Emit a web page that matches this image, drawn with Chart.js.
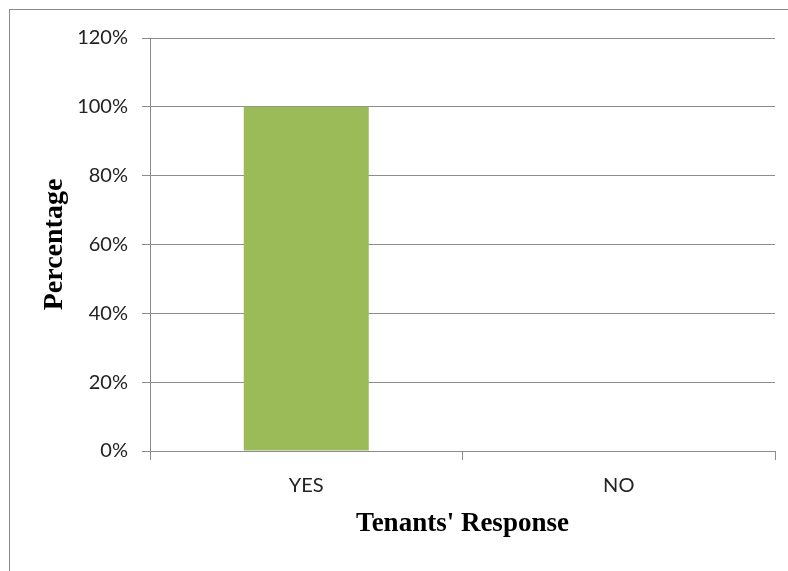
<!DOCTYPE html>
<html>
<head>
<meta charset="utf-8">
<title>Tenants' Response</title>
<script src="https://cdn.jsdelivr.net/npm/chart.js@4/dist/chart.umd.min.js"></script>
<style>
  html, body { margin: 0; padding: 0; background: #fff; overflow: hidden; }
  #wrap { position: relative; width: 788px; height: 571px; }
  #frame { position: absolute; left: 9px; top: 9px; width: 800px; height: 600px; border: 1px solid #8a8a8a; box-sizing: border-box; }
  #chart { position: absolute; left: 0; top: 0; }
</style>
</head>
<body>
<div id="wrap">
  <div id="frame"></div>
  <canvas id="chart" width="788" height="571"></canvas>
</div>
<script>
// survey answers, share of tenants (percent)
const responses = ["YES", "NO"];
const shares = [100, 0];
const yTicks = [0, 20, 40, 60, 80, 100, 120];

const AXIS_GREY = "#8c8c8c";
const BAR_GREEN = "#9bbb59";

const ctx = document.getElementById("chart").getContext("2d");
new Chart(ctx, {
  type: "bar",
  data: {
    labels: responses,
    datasets: [{
      data: shares,
      backgroundColor: BAR_GREEN,
      borderWidth: 0,
      categoryPercentage: 0.4,
      barPercentage: 1.0,
    }],
  },
  options: {
    responsive: false,
    animation: false,
    layout: { padding: { top: 38, right: 13, bottom: 0, left: 0 } },
    plugins: { legend: { display: false }, tooltip: { enabled: false } },
    scales: {
      x: {
        afterFit: (s) => { s.height = 120; },
        grid: { drawOnChartArea: false, drawTicks: true, tickLength: 9, color: AXIS_GREY, offset: true },
        border: { color: AXIS_GREY, width: 1 },
        ticks: { color: "#222", padding: 14, font: { family: "Lato", size: 20 } },
        title: {
          display: true, text: "Tenants' Response", color: "#000",
          font: { family: "Liberation Serif", size: 27, weight: "bold" },
          padding: { top: 0, bottom: 31 },
        },
      },
      y: {
        min: 0, max: 120,
        afterFit: (s) => { s.width = 150; },
        afterBuildTicks: (s) => { s.ticks = yTicks.map(v => ({ value: v })); },
        grid: { color: AXIS_GREY, tickLength: 8, lineWidth: 1 },
        border: { color: AXIS_GREY, width: 1 },
        ticks: {
          color: "#222", padding: 14,
          font: { family: "Lato", size: 20 },
          callback: (v) => v + "%",
        },
        title: {
          display: true, text: "Percentage", color: "#000",
          font: { family: "Liberation Serif", size: 28, weight: "bold" },
          padding: { top: 38, bottom: 0 },
        },
      },
    },
  },
});
</script>
</body>
</html>
